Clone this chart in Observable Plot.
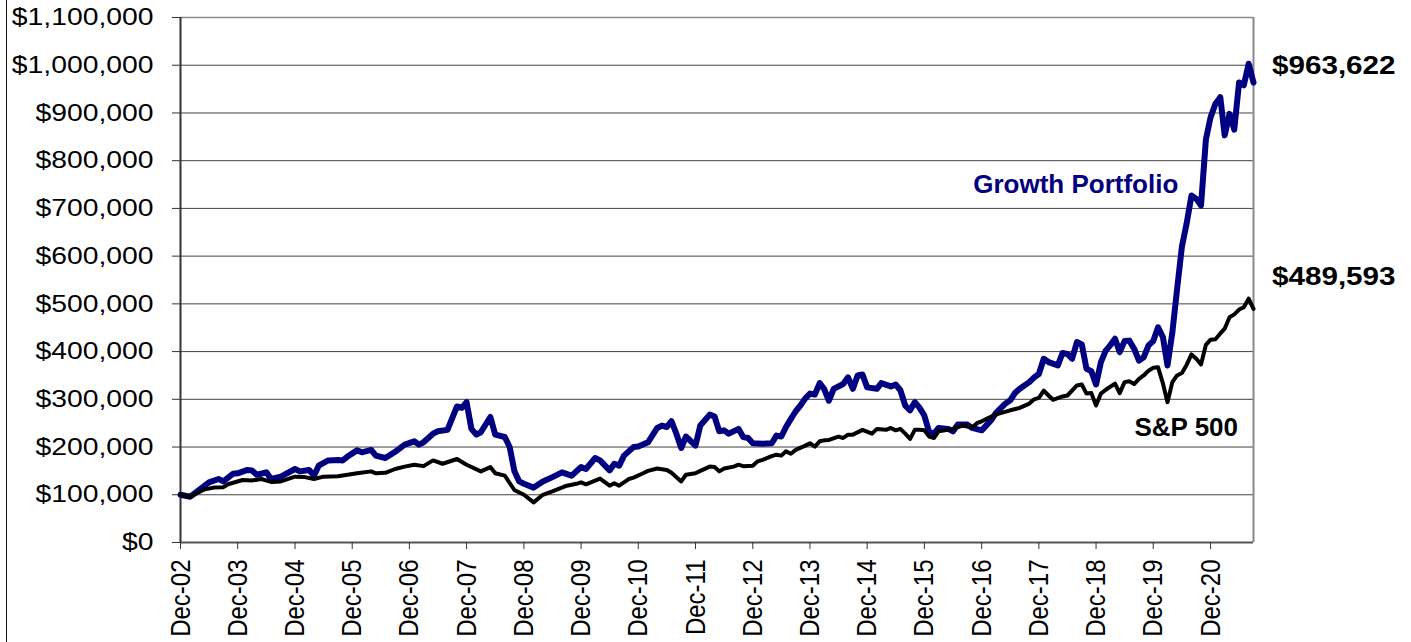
<!DOCTYPE html>
<html><head><meta charset="utf-8">
<script src="https://cdn.jsdelivr.net/npm/d3@7"></script>
<script src="https://cdn.jsdelivr.net/npm/@observablehq/plot@0.6"></script>
<style>
html,body{margin:0;padding:0;background:#fff;}
#wrap{position:relative;width:1411px;height:642px;overflow:hidden;background:#fff;}
#edge{position:absolute;left:6px;top:0;width:1px;height:642px;background:#111;}
#wrap svg{position:absolute;left:0;top:0;}
</style></head><body><div id="wrap"><div id="edge"></div></div>
<script>
// ---- data ----
const seriesNames = ["Growth Portfolio", "S&P 500"];

const growthDates = ["2002-12","2003-02","2003-03","2003-06","2003-08","2003-09","2003-11","2003-12",
"2004-02","2004-03","2004-04","2004-06","2004-07","2004-09","2004-12","2005-01","2005-03","2005-04",
"2005-05","2005-07","2005-09","2005-10","2005-11","2006-01","2006-02","2006-04","2006-05","2006-07",
"2006-09","2006-11","2007-01","2007-02","2007-03","2007-05","2007-06","2007-08","2007-10","2007-11",
"2007-12","2008-01","2008-02","2008-03","2008-05","2008-06","2008-08","2008-09","2008-10","2008-11",
"2008-12","2009-02","2009-04","2009-06","2009-08","2009-10","2009-12","2010-01","2010-03","2010-04",
"2010-06","2010-07","2010-08","2010-09","2010-11","2010-12","2011-02","2011-04","2011-05","2011-06",
"2011-07","2011-08","2011-09","2011-10","2011-12","2012-01","2012-03","2012-04","2012-05","2012-06",
"2012-07","2012-09","2012-10","2012-11","2012-12","2013-02","2013-04","2013-05","2013-06","2013-07",
"2013-08","2013-09","2013-10","2013-11","2013-12","2014-01","2014-02","2014-03","2014-04","2014-05",
"2014-07","2014-08","2014-09","2014-10","2014-11","2014-12","2015-02","2015-03","2015-05","2015-06",
"2015-07","2015-08","2015-09","2015-10","2015-11","2015-12","2016-01","2016-02","2016-03","2016-05",
"2016-06","2016-07","2016-09","2016-10","2016-12","2017-02","2017-03","2017-05","2017-06","2017-07",
"2017-08","2017-10","2017-11","2017-12","2018-01","2018-02","2018-04","2018-05","2018-06","2018-07",
"2018-08","2018-09","2018-10","2018-11","2018-12","2019-01","2019-02","2019-03","2019-04","2019-05",
"2019-06","2019-07","2019-08","2019-09","2019-10","2019-11","2019-12","2020-01","2020-02","2020-03",
"2020-04","2020-05","2020-06","2020-07","2020-08","2020-09","2020-10","2020-11","2020-12","2021-01",
"2021-02","2021-03","2021-04","2021-05","2021-06","2021-07","2021-08","2021-09"];
const growthValues = [100000,96000,103000,126000,133000,128000,144000,145000,
152000,151000,142000,147000,133000,138000,154000,149000,152000,140000,
161000,172000,173000,172000,180000,193000,189000,194000,182000,177000,
190000,205000,212000,205000,210000,228000,233000,236000,285000,282000,
294000,238000,226000,231000,263000,226000,221000,200000,150000,128000,
123000,115000,128000,137000,147000,140000,158000,154000,177000,172000,
151000,165000,161000,182000,200000,201000,210000,240000,245000,242000,
254000,228000,198000,222000,203000,245000,268000,264000,233000,235000,
228000,238000,221000,219000,208000,207000,208000,224000,222000,242000,
259000,275000,287000,302000,312000,310000,334000,322000,297000,322000,
332000,346000,322000,350000,352000,325000,322000,334000,327000,331000,
319000,287000,277000,294000,282000,266000,231000,228000,240000,238000,
233000,247000,247000,240000,235000,257000,271000,291000,298000,313000,
322000,336000,346000,353000,385000,378000,371000,397000,395000,385000,
420000,415000,364000,359000,331000,378000,402000,413000,427000,399000,
422000,423000,406000,381000,388000,413000,422000,451000,430000,371000,
440000,530000,620000,668000,727000,720000,706000,844000,891000,919000,
933000,853000,898000,865000,964000,958000,1003000,963622];

const spDates = ["2002-12","2003-02","2003-05","2003-07","2003-09","2003-10","2004-01","2004-03",
"2004-05","2004-07","2004-09","2004-12","2005-02","2005-04","2005-06","2005-09","2005-11","2006-01",
"2006-04","2006-05","2006-07","2006-09","2006-11","2007-01","2007-03","2007-05","2007-07","2007-10",
"2007-12","2008-03","2008-05","2008-06","2008-08","2008-10","2008-12","2009-02","2009-04","2009-06",
"2009-09","2009-11","2009-12","2010-01","2010-04","2010-06","2010-07","2010-08","2010-10","2010-11",
"2011-01","2011-02","2011-04","2011-06","2011-07","2011-09","2011-10","2011-12","2012-01","2012-03",
"2012-04","2012-05","2012-06","2012-08","2012-09","2012-10","2012-12","2013-01","2013-02","2013-04",
"2013-05","2013-06","2013-07","2013-08","2013-09","2013-11","2013-12","2014-01","2014-02","2014-03",
"2014-04","2014-06","2014-07","2014-08","2014-09","2014-11","2015-01","2015-02","2015-04","2015-05",
"2015-06","2015-07","2015-08","2015-09","2015-10","2015-11","2015-12","2016-01","2016-02","2016-03",
"2016-05","2016-06","2016-08","2016-10","2016-11","2016-12","2017-01","2017-03","2017-04","2017-06",
"2017-08","2017-10","2017-11","2017-12","2018-01","2018-03","2018-05","2018-06","2018-08","2018-09",
"2018-10","2018-11","2018-12","2019-01","2019-02","2019-04","2019-05","2019-06","2019-07","2019-08",
"2019-09","2019-10","2019-11","2019-12","2020-01","2020-02","2020-03","2020-04","2020-05","2020-06",
"2020-07","2020-08","2020-09","2020-10","2020-11","2020-12","2021-01","2021-02","2021-03","2021-04",
"2021-05","2021-06","2021-07","2021-08","2021-09"];
const spValues = [100000,96000,111000,115000,116000,122000,131000,130000,
133000,127000,128000,138000,137000,133000,138000,139000,142000,145000,
149000,145000,146000,154000,159000,163000,160000,172000,165000,175000,
163000,149000,158000,145000,140000,110000,100000,84000,100000,107000,
119000,123000,126000,122000,134000,119000,124000,119000,133000,136000,
145000,150000,155000,152000,146000,128000,142000,145000,150000,159000,
158000,149000,155000,159000,163000,160000,161000,170000,173000,181000,
184000,182000,191000,186000,194000,203000,208000,201000,212000,214000,
215000,222000,219000,226000,226000,236000,228000,238000,236000,240000,
235000,238000,228000,217000,236000,236000,235000,222000,219000,233000,
236000,238000,245000,241000,250000,254000,259000,268000,271000,277000,
282000,291000,300000,303000,318000,299000,306000,308000,329000,331000,
312000,313000,287000,312000,320000,333000,313000,336000,338000,332000,
343000,350000,360000,366000,367000,333000,294000,336000,350000,355000,
372000,394000,385000,373000,414000,425000,426000,438000,448000,472000,
478000,488000,493000,511000,489593];

const yTickValues = [0,100000,200000,300000,400000,500000,600000,700000,800000,900000,1000000,1100000];
const xTickYears = [2002,2003,2004,2005,2006,2007,2008,2009,2010,2011,2012,2013,2014,2015,2016,2017,2018,2019,2020];

// ---- build tables ----
const parseM = d3.utcParse("%Y-%m");
const growth = growthDates.map((d, i) => ({date: parseM(d), value: growthValues[i], series: seriesNames[0]}));
const sp = spDates.map((d, i) => ({date: parseM(d), value: spValues[i], series: seriesNames[1]}));
const xTicks = xTickYears.map(y => new Date(Date.UTC(y, 11, 1)));
const xDomain = [growth[0].date, growth[growth.length - 1].date];
const money = d3.format("$,.0f");
const endLabels = [growth[growth.length - 1], sp[sp.length - 1]];

const navy = "#000080";

const chart = Plot.plot({
  width: 1411,
  height: 642,
  marginLeft: 180,
  marginRight: 158,
  marginTop: 17,
  marginBottom: 100,
  style: {fontFamily: "'Liberation Sans', Arial, sans-serif", fontSize: "24px", color: "#000", background: "transparent"},
  x: {type: "utc", domain: xDomain},
  y: {domain: [0, 1100000]},
  marks: [
    Plot.ruleY(yTickValues.filter(v => v > 0 && v < 1100000), {stroke: "#444", strokeWidth: 1}),
    Plot.ruleY([1100000], {stroke: "#8a8a8a", strokeWidth: 1.5}),
    Plot.ruleX([xDomain[1]], {stroke: "#8a8a8a", strokeWidth: 2}),
    Plot.ruleY([0], {stroke: "#555", strokeWidth: 2}),
    Plot.ruleX([xDomain[0]], {stroke: "#333", strokeWidth: 2}),
    Plot.axisY({ticks: yTickValues, tickFormat: d3.format("$,"), tickSize: 8, tickPadding: 19, stroke: "#333", label: null, fontSize: 24}),
    Plot.axisX({ticks: xTicks, tickFormat: d3.utcFormat("%b-%y"), tickRotate: -90, tickSize: 7, tickPadding: 10, stroke: "#333", label: null, fontSize: 24}),
    Plot.line(growth, {x: "date", y: "value", stroke: navy, strokeWidth: 6, strokeLinejoin: "round", strokeLinecap: "round"}),
    Plot.line(sp, {x: "date", y: "value", stroke: "#000", strokeWidth: 4, strokeLinejoin: "round", strokeLinecap: "round"}),
    Plot.text([endLabels[0]], {x: "date", y: "value", text: d => money(d.value), dx: 18.5, dy: -17, textAnchor: "start", fontWeight: "bold", fontSize: 26, fill: "#000"}),
    Plot.text([endLabels[1]], {x: "date", y: "value", text: d => money(d.value), dx: 18.5, dy: -32, textAnchor: "start", fontWeight: "bold", fontSize: 26, fill: "#000"}),
    Plot.text([seriesNames[0]], {x: () => new Date(Date.UTC(2016, 9, 8)), y: () => 750000, text: d => d, textAnchor: "start", fontWeight: "bold", fontSize: 26, fill: navy}),
    Plot.text([seriesNames[1]], {x: () => new Date(Date.UTC(2019, 7, 3)), y: () => 241000, text: d => d, textAnchor: "start", fontWeight: "bold", fontSize: 26, fill: "#000"})
  ]
});

// widen glyphs horizontally like the reference (which is stretched sideways)
chart.querySelectorAll("text").forEach(t => {
  const g = t.closest("g");
  const label = (g && g.getAttribute("aria-label")) || "";
  let sx = 1, sy = 1;
  if (label.startsWith("y-axis tick label")) sx = 1.18;
  else if (label.startsWith("x-axis tick label")) sy = 1.18;
  else if (t.textContent.startsWith("$")) sx = 1.14;
  else return;
  let tr = t.getAttribute("transform") || "";
  const x = t.getAttribute("x"), y = t.getAttribute("y");
  if (!tr && (x || y)) {
    tr = `translate(${x || 0},${y || 0})`;
    t.removeAttribute("x"); t.removeAttribute("y");
  }
  t.setAttribute("transform", `${tr} scale(${sx},${sy})`);
});

document.getElementById("wrap").appendChild(chart);
</script>
</body></html>
